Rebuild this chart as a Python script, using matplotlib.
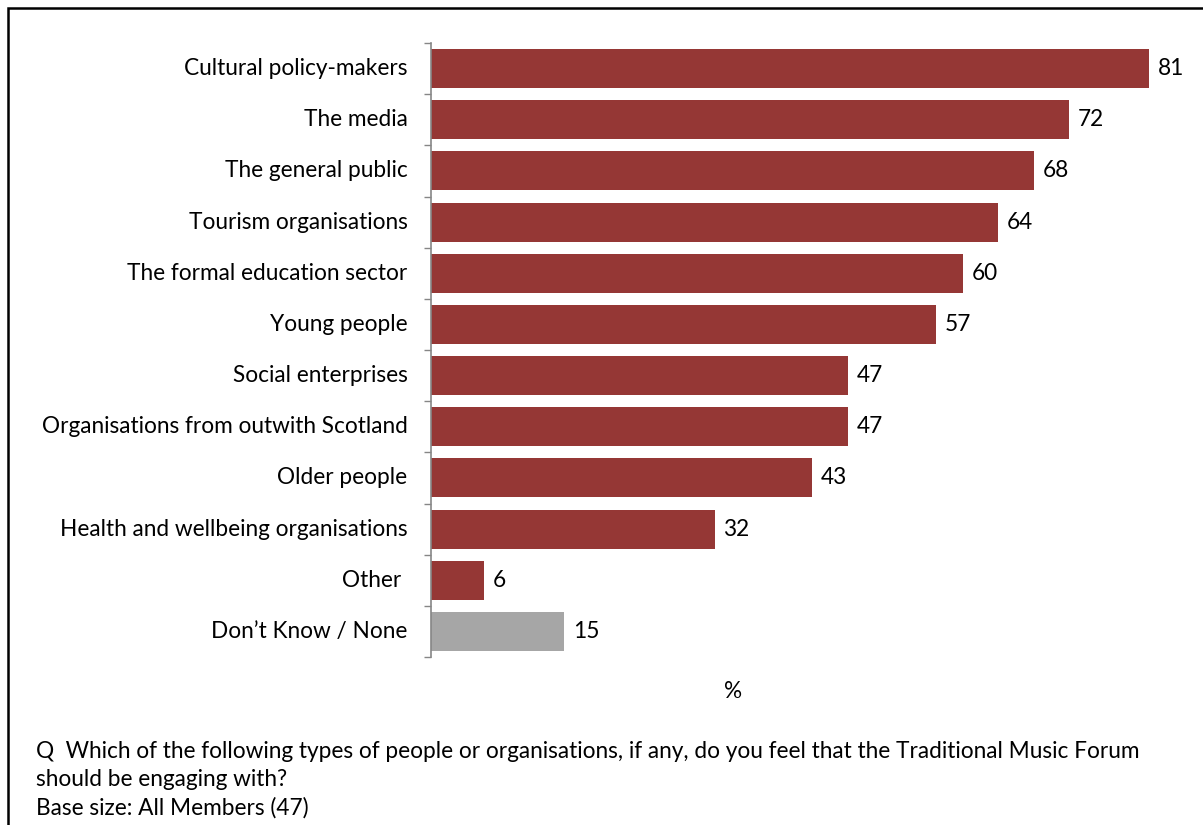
import matplotlib
matplotlib.use("Agg")
from matplotlib import pyplot as plt
from matplotlib.patches import Rectangle

categories = [
    "Cultural policy-makers",
    "The media",
    "The general public",
    "Tourism organisations",
    "The formal education sector",
    "Young people",
    "Social enterprises",
    "Organisations from outwith Scotland",
    "Older people",
    "Health and wellbeing organisations",
    "Other ",
    "Don\u2019t Know / None",
]
values = [81, 72, 68, 64, 60, 57, 47, 47, 43, 32, 6, 15]
colours = ["#953735"] * 11 + ["#A6A6A6"]

question = ("Q  Which of the following types of people or organisations, if any, do you feel that the Traditional Music Forum\n"
            "should be engaging with?\n"
            "Base size: All Members (47)")

plt.rcParams["font.family"] = ["Lato", "DejaVu Sans"]
FS = 16.3

W, H = 1203, 825
fig = plt.figure(figsize=(W / 100, H / 100), dpi=100)

# frame round the whole chart (runs off the right and bottom edges)
fig.patches.append(Rectangle((8 / W, -0.05), 1.2, 1 - 8 / H + 0.05,
                             transform=fig.transFigure, fill=False,
                             edgecolor="black", linewidth=1.8))

left, right = 431 / W, 1190 / W
top, bottom = 1 - 43 / H, 1 - 657 / H
ax = fig.add_axes([left, bottom, right - left, top - bottom])

n = len(categories)
ypos = list(range(n))
ax.barh(ypos, values, height=0.76, color=colours)
ax.set_ylim(n - 0.5, -0.5)
ax.set_xlim(0, (1190 - 431) / 8.864)

for y, v in zip(ypos, values):
    ax.text(v + 1.0, y, str(v), va="center", ha="left", fontsize=FS)

# category labels sit between tick marks at the bar boundaries
ax.set_yticks([i - 0.5 for i in range(n + 1)])
ax.set_yticklabels([])
ax.tick_params(axis="y", direction="out", length=5, color="#868686", width=1)
for y, c in zip(ypos, categories):
    ax.text(-0.031, y, c, transform=ax.get_yaxis_transform(),
            ha="right", va="center", fontsize=FS)

ax.set_xticks([])
for s in ["top", "right", "bottom"]:
    ax.spines[s].set_visible(False)
ax.spines["left"].set_color("#868686")
ax.spines["left"].set_linewidth(1.2)

fig.text(733 / W, 1 - 692 / H, "%", ha="center", va="center", fontsize=FS)
fig.text(36 / W, 1 - 741 / H, question, ha="left", va="top", fontsize=FS,
         linespacing=1.4)

fig.savefig("out.png", dpi=100)
